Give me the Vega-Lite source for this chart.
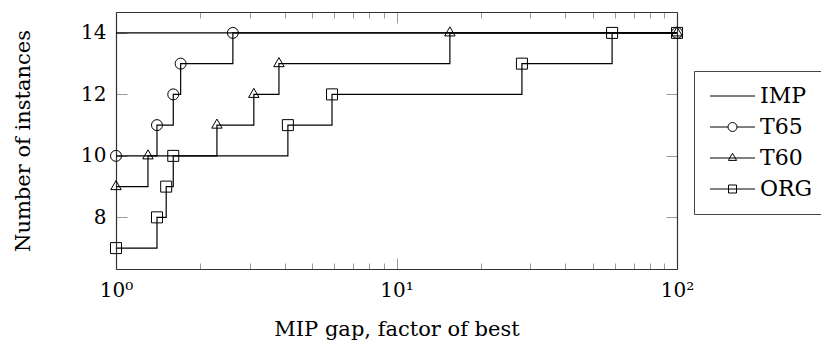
{
  "$schema": "https://vega.github.io/schema/vega-lite/v6.json",
  "autosize": {"type": "none"},
  "padding": {"left": 116, "top": 12, "right": 144, "bottom": 77},
  "width": 561,
  "height": 257,
  "background": "white",
  "config": {
    "view": {"stroke": null},
    "font": "DejaVu Serif",
    "axis": {
      "labelFont": "DejaVu Serif",
      "titleFont": "DejaVu Serif",
      "labelFontSize": 20,
      "titleFontSize": 21,
      "titleFontWeight": "normal",
      "labelColor": "black",
      "titleColor": "black",
      "domainColor": "#333",
      "domainWidth": 1.2,
      "tickColor": "#999",
      "tickWidth": 1,
      "grid": false
    },
    "legend": {
      "labelFont": "DejaVu Serif"
    }
  },
  "data": {
    "values": [
      {"series": "IMP", "x": 1, "y": 14, "ord": 0},
      {"series": "IMP", "x": 100, "y": 14, "ord": 1},
      {"series": "T65", "x": 1, "y": 10, "ord": 0},
      {"series": "T65", "x": 1.4, "y": 11, "ord": 1},
      {"series": "T65", "x": 1.6, "y": 12, "ord": 2},
      {"series": "T65", "x": 1.7, "y": 13, "ord": 3},
      {"series": "T65", "x": 2.61, "y": 14, "ord": 4},
      {"series": "T65", "x": 100, "y": 14, "ord": 5},
      {"series": "T60", "x": 1, "y": 9, "ord": 0},
      {"series": "T60", "x": 1.3, "y": 10, "ord": 1},
      {"series": "T60", "x": 2.29, "y": 11, "ord": 2},
      {"series": "T60", "x": 3.1, "y": 12, "ord": 3},
      {"series": "T60", "x": 3.81, "y": 13, "ord": 4},
      {"series": "T60", "x": 15.5, "y": 14, "ord": 5},
      {"series": "T60", "x": 100, "y": 14, "ord": 6},
      {"series": "ORG", "x": 1, "y": 7, "ord": 0},
      {"series": "ORG", "x": 1.4, "y": 8, "ord": 1},
      {"series": "ORG", "x": 1.51, "y": 9, "ord": 2},
      {"series": "ORG", "x": 1.6, "y": 10, "ord": 3},
      {"series": "ORG", "x": 4.1, "y": 11, "ord": 4},
      {"series": "ORG", "x": 5.89, "y": 12, "ord": 5},
      {"series": "ORG", "x": 28.0, "y": 13, "ord": 6},
      {"series": "ORG", "x": 58.7, "y": 14, "ord": 7},
      {"series": "ORG", "x": 100, "y": 14, "ord": 8}
    ]
  },
  "resolve": {
    "axis": {"x": "independent", "y": "independent"},
    "scale": {"shape": "independent"}
  },
  "layer": [
    {
      "mark": {"type": "line", "interpolate": "step-after", "color": "black", "strokeWidth": 1.2},
      "encoding": {
        "x": {
          "field": "x", "type": "quantitative",
          "scale": {"type": "log", "domain": [1, 100], "nice": false},
          "axis": {
            "orient": "bottom",
            "values": [1, 2, 3, 4, 5, 6, 7, 8, 9, 10, 20, 30, 40, 50, 60, 70, 80, 90, 100],
            "tickSize": {"condition": {"test": "datum.value == 1 || datum.value == 10 || datum.value == 100", "value": -11}, "value": -6},
            "labelExpr": "datum.value == 1 ? '10⁰' : datum.value == 10 ? '10¹' : datum.value == 100 ? '10²' : ''",
            "labelPadding": 22,
            "labelFlush": false,
            "labelOverlap": false,
            "title": "MIP gap, factor of best",
            "titlePadding": 13
          }
        },
        "y": {
          "field": "y", "type": "quantitative",
          "scale": {"domain": [6.32, 14.68], "nice": false, "zero": false},
          "axis": {
            "orient": "left",
            "values": [8, 10, 12, 14],
            "tickSize": -11,
            "labelPadding": 21,
            "title": "Number of instances",
            "titlePadding": 47
          }
        },
        "detail": {"field": "series"},
        "order": {"field": "ord", "type": "quantitative"}
      }
    },
    {
      "transform": [{"filter": "datum.series != 'IMP'"}],
      "mark": {"type": "point", "filled": false, "size": 121, "stroke": "black", "strokeWidth": 1, "opacity": 1},
      "encoding": {
        "x": {
          "field": "x", "type": "quantitative",
          "scale": {"type": "log", "domain": [1, 100], "nice": false},
          "axis": {
            "orient": "top",
            "values": [1, 2, 3, 4, 5, 6, 7, 8, 9, 10, 20, 30, 40, 50, 60, 70, 80, 90, 100],
            "tickSize": {"condition": {"test": "datum.value == 1 || datum.value == 10 || datum.value == 100", "value": -11}, "value": -6},
            "labels": false,
            "title": null
          }
        },
        "y": {
          "field": "y", "type": "quantitative",
          "scale": {"domain": [6.32, 14.68], "nice": false, "zero": false},
          "axis": {
            "orient": "right",
            "values": [8, 10, 12, 14],
            "tickSize": -11,
            "labels": false,
            "title": null
          }
        },
        "shape": {
          "field": "series", "type": "nominal",
          "scale": {
            "domain": ["T65", "T60", "ORG"],
            "range": [
              "M1,0A1,1 0 1,1 -1,0A1,1 0 1,1 1,0Z",
              "M0,-1.1L0.95,0.55L-0.95,0.55Z",
              "M-1,-1H1V1H-1Z"
            ]
          },
          "legend": null
        }
      }
    },
    {
      "mark": {"type": "point", "filled": false, "opacity": 0},
      "encoding": {
        "x": {"field": "x", "type": "quantitative", "scale": {"type": "log", "domain": [1, 100], "nice": false}, "axis": null},
        "y": {"field": "y", "type": "quantitative", "scale": {"domain": [6.32, 14.68], "nice": false, "zero": false}, "axis": null},
        "shape": {
          "field": "series", "type": "nominal",
          "scale": {
            "domain": ["IMP", "T65", "T60", "ORG"],
            "range": [
              "M-1.8,0H7.2",
              "M-1.8,0H1.8M3.6,0H7.2M3.6,0A0.9,0.9 0 1,1 1.8,0A0.9,0.9 0 1,1 3.6,0",
              "M-1.8,0H7.2M2.7,-0.95L3.52,0.48L1.88,0.48Z",
              "M-1.8,0H7.2M1.9,-0.8H3.5V0.8H1.9Z"
            ]
          },
          "legend": {
            "orient": "none",
            "legendX": 578,
            "legendY": 59,
            "title": null,
            "labelFont": "DejaVu Serif",
            "labelFontSize": 22,
            "labelColor": "black",
            "labelLimit": 0,
            "labelOffset": 30,
            "strokeColor": "#444",
            "padding": 14,
            "rowPadding": 9,
            "symbolSize": 100,
            "symbolStrokeColor": "black",
            "symbolStrokeWidth": 1,
            "symbolFillColor": "transparent",
            "symbolOpacity": 1
          }
        }
      }
    }
  ]
}
